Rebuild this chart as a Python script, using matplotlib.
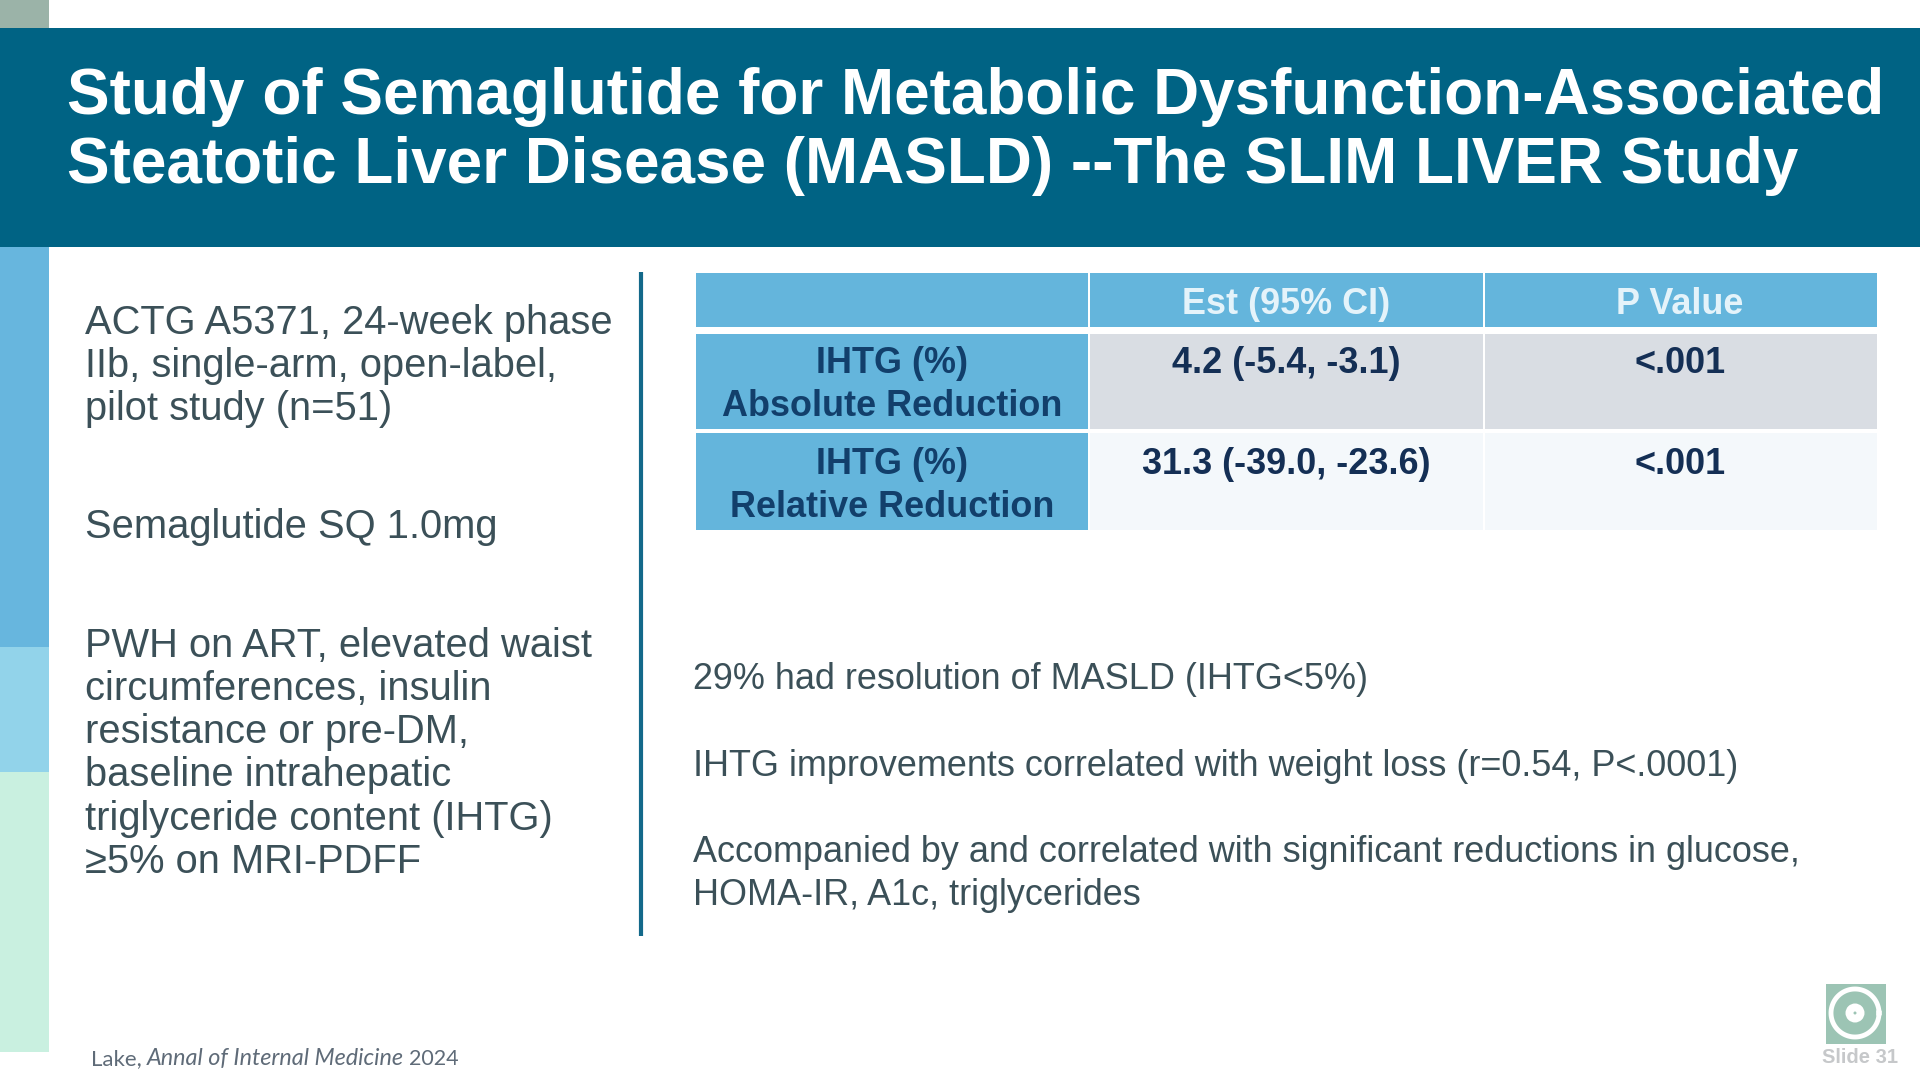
import matplotlib.pyplot as plt
import numpy as np

W = 1920
H = 1080
plt.rcParams['font.family'] = ['Liberation Sans', 'DejaVu Sans']

# x, y, w, h, colour
blocks = [[0, 0, 49, 28, '#9bb3a8'],
          [0, 247, 49, 400, '#67b6de'],
          [0, 647, 49, 125, '#92d3ea'],
          [0, 772, 49, 280, '#c9f0e0'],
          [0, 28, 1920, 219, '#006384'],
          [696, 273, 392, 54, '#64b5dc'],
          [1090, 273, 393, 54, '#64b5dc'],
          [1485, 273, 392, 54, '#64b5dc'],
          [696, 334, 392, 95, '#64b5dc'],
          [1090, 334, 393, 95, '#d9dde3'],
          [1485, 334, 392, 95, '#d9dde3'],
          [696, 433, 392, 97, '#64b5dc'],
          [1090, 433, 393, 97, '#f4f8fb'],
          [1485, 433, 392, 97, '#f4f8fb'],
          [1826, 984, 60, 60, '#9cc4b4']]

title = [['Study of Semaglutide for Metabolic Dysfunction-Associated', 114],
         ['Steatotic Liver Disease (MASLD) --The SLIM LIVER Study', 183]]

left = [['ACTG A5371, 24-week phase', 334],
        ['IIb, single-arm, open-label,', 377],
        ['pilot study (n=51)', 420],
        ['Semaglutide SQ 1.0mg', 538],
        ['PWH on ART, elevated waist', 657],
        ['circumferences, insulin', 700],
        ['resistance or pre-DM,', 743],
        ['baseline intrahepatic', 786],
        ['triglyceride content (IHTG)', 830],
        ['≥5% on MRI-PDFF', 873]]

right = [['29% had resolution of MASLD (IHTG<5%)', 689],
         ['IHTG improvements correlated with weight loss (r=0.54, P<.0001)', 776],
         ['Accompanied by and correlated with significant reductions in glucose,', 862],
         ['HOMA-IR, A1c, triglycerides', 905]]

# centre x, baseline y, text, colour
cells = [[1286, 314, 'Est (95% CI)', '#e4f3fa'],
         [1680, 314, 'P Value', '#e4f3fa'],
         [892, 373, 'IHTG (%)', '#123f6b'],
         [892, 416, 'Absolute Reduction', '#123f6b'],
         [1286, 373, '4.2 (-5.4, -3.1)', '#142f55'],
         [1680, 373, '<.001', '#142f55'],
         [892, 474, 'IHTG (%)', '#123f6b'],
         [892, 517, 'Relative Reduction', '#123f6b'],
         [1286, 474, '31.3 (-39.0, -23.6)', '#142f55'],
         [1680, 474, '<.001', '#142f55']]

fig = plt.figure(figsize=(W / 100, H / 100), dpi=100)
ax = fig.add_subplot(111)
fig.subplots_adjust(left=0, right=1, bottom=0, top=1)
ax.set_xlim(0, W)
ax.set_ylim(H, 0) # y runs down like the slide
ax.axis('off')

for b in blocks:
    ax.add_patch(plt.Rectangle((b[0], b[1]), b[2], b[3], facecolor=b[4], edgecolor='none'))

ax.plot([641, 641], [272, 936], color='#13698a', lw=3, solid_capstyle='butt')

for t in title:
    ax.text(67, t[1], t[0], color='white', fontsize=46, fontweight='bold', va='baseline')

for t in left:
    ax.text(85, t[1], t[0], color='#3b5058', fontsize=28.7, va='baseline')

for t in right:
    ax.text(693, t[1], t[0], color='#3b5058', fontsize=25.9, va='baseline')

for c in cells:
    ax.text(c[0], c[1], c[2], color=c[3], fontsize=25.9, fontweight='bold', ha='center', va='baseline')

# citation
ax.text(91, 1065, 'Lake,', color='#5f6b78', fontsize=16, family='Lato', va='baseline')
ax.text(147, 1065, 'Annal of Internal Medicine', color='#5f6b78', fontsize=16.8, family='Lato', style='italic', va='baseline')
ax.text(409, 1065, '2024', color='#5f6b78', fontsize=15.5, family='Lato', va='baseline')

# logo
theta = np.linspace(0, 2 * np.pi, 100)
ax.plot(1855 + 24 * np.cos(theta), 1013 + 24 * np.sin(theta), color='white', lw=3.5)
ax.add_patch(plt.Circle((1855, 1013), 9.5, facecolor='white', edgecolor='none'))
ax.add_patch(plt.Circle((1855, 1013), 1.5, facecolor='#9cc4b4', edgecolor='none'))
ax.text(1860, 1063, 'Slide 31', color='#c6c8ca', fontsize=14.5, fontweight='bold', ha='center', va='baseline')

fig.savefig('out.png', dpi=100)
